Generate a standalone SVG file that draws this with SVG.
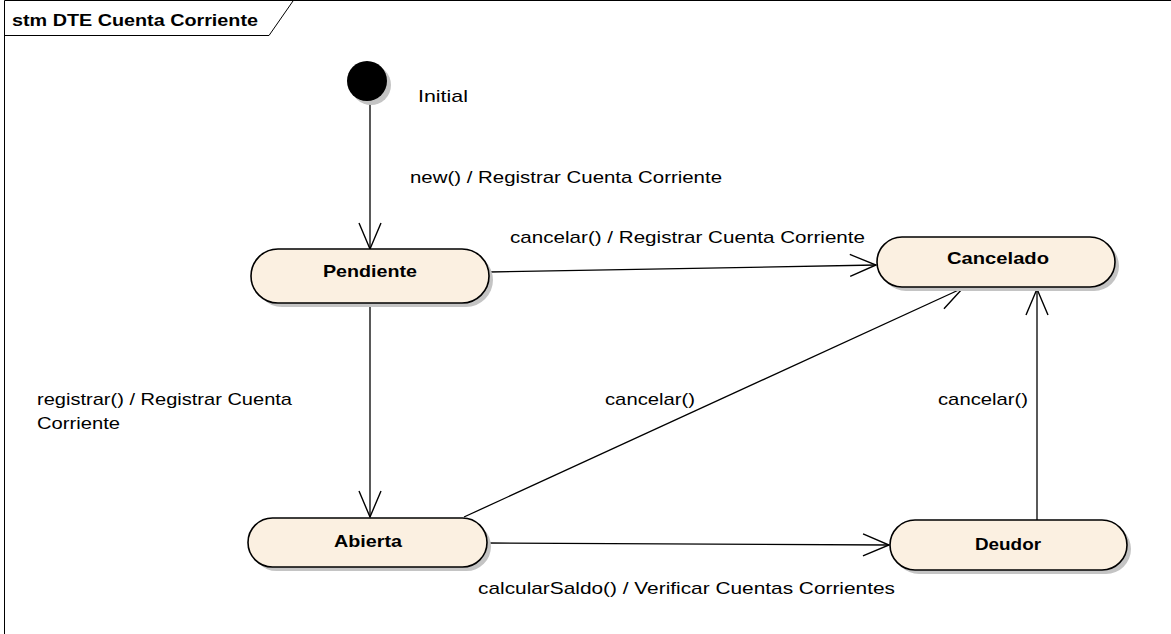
<svg xmlns="http://www.w3.org/2000/svg" width="1171" height="634" viewBox="0 0 1171 634">
<style>
.frame{fill:none;stroke:#000;stroke-width:1}
.shadow{fill:#c4c4c4;stroke:none}
.state{fill:#fbf0e1;stroke:#000;stroke-width:1.6}
.name{font-family:"Liberation Sans",Arial,sans-serif;font-size:17px;font-weight:bold;fill:#000;text-anchor:middle}
.lbl{font-family:"Liberation Sans",Arial,sans-serif;font-size:17px;fill:#000}
.edge{fill:none;stroke:#000;stroke-width:1.3}
</style>
<defs>
<marker id="arr" markerUnits="userSpaceOnUse" viewBox="-28 -13 30 26" markerWidth="30" markerHeight="26" refX="0" refY="0" orient="auto">
<path d="M-26,-11 L0,0 L-26,11" fill="none" stroke="#000" stroke-width="1.4"/>
</marker>
</defs>
<rect width="1171" height="634" fill="#fff"/>
<g id="frame">
<path class="frame" d="M4.5,634 V0.5 H1171"/>
<path class="frame" d="M4.5,35.5 H269 L293,1"/>
<text x="12" y="26" class="lbl" style="font-weight:bold" textLength="246" lengthAdjust="spacingAndGlyphs">stm DTE Cuenta Corriente</text>
</g>
<g id="connectors">
<line class="edge" x1="370" y1="101" x2="370" y2="249" marker-end="url(#arr)"/>
<line class="edge" x1="489" y1="272" x2="876" y2="265" marker-end="url(#arr)"/>
<line class="edge" x1="370" y1="303" x2="370" y2="517" marker-end="url(#arr)"/>
<line class="edge" x1="464" y1="517" x2="963" y2="288" marker-end="url(#arr)"/>
<line class="edge" x1="487" y1="543" x2="889" y2="545" marker-end="url(#arr)"/>
<line class="edge" x1="1037" y1="520" x2="1037" y2="289" marker-end="url(#arr)"/>
<text class="lbl" x="410" y="183" textLength="312" lengthAdjust="spacingAndGlyphs">new() / Registrar Cuenta Corriente</text>
<text class="lbl" x="510" y="243" textLength="355" lengthAdjust="spacingAndGlyphs">cancelar() / Registrar Cuenta Corriente</text>
<text class="lbl" x="37" y="405" textLength="255" lengthAdjust="spacingAndGlyphs">registrar() / Registrar Cuenta</text>
<text class="lbl" x="37" y="429" textLength="83" lengthAdjust="spacingAndGlyphs">Corriente</text>
<text class="lbl" x="605" y="405" textLength="90" lengthAdjust="spacingAndGlyphs">cancelar()</text>
<text class="lbl" x="938" y="405" textLength="90" lengthAdjust="spacingAndGlyphs">cancelar()</text>
<text class="lbl" x="478" y="594" textLength="417" lengthAdjust="spacingAndGlyphs">calcularSaldo() / Verificar Cuentas Corrientes</text>
</g>
<g id="initial">
<circle class="shadow" cx="371" cy="85" r="20"/>
<circle cx="367" cy="81" r="20" fill="#000"/>
<text class="lbl" x="418" y="102" textLength="50" lengthAdjust="spacingAndGlyphs">Initial</text>
</g>
<g id="pendiente">
<rect class="shadow" x="255" y="253" width="238" height="54" rx="27"/>
<rect class="state" x="251" y="249" width="238" height="54" rx="27"/>
<text class="name" x="370" y="277" textLength="94" lengthAdjust="spacingAndGlyphs">Pendiente</text>
</g>
<g id="cancelado">
<rect class="shadow" x="881" y="241" width="238" height="50" rx="25"/>
<rect class="state" x="877" y="237" width="238" height="50" rx="25"/>
<text class="name" x="998" y="264" textLength="102" lengthAdjust="spacingAndGlyphs">Cancelado</text>
</g>
<g id="abierta">
<rect class="shadow" x="252" y="522" width="239" height="49" rx="24.5"/>
<rect class="state" x="248" y="518" width="239" height="49" rx="24.5"/>
<text class="name" x="368" y="547" textLength="68" lengthAdjust="spacingAndGlyphs">Abierta</text>
</g>
<g id="deudor">
<rect class="shadow" x="894" y="524" width="237" height="50" rx="25"/>
<rect class="state" x="890" y="520" width="237" height="50" rx="25"/>
<text class="name" x="1008" y="550" textLength="66" lengthAdjust="spacingAndGlyphs">Deudor</text>
</g>
</svg>
